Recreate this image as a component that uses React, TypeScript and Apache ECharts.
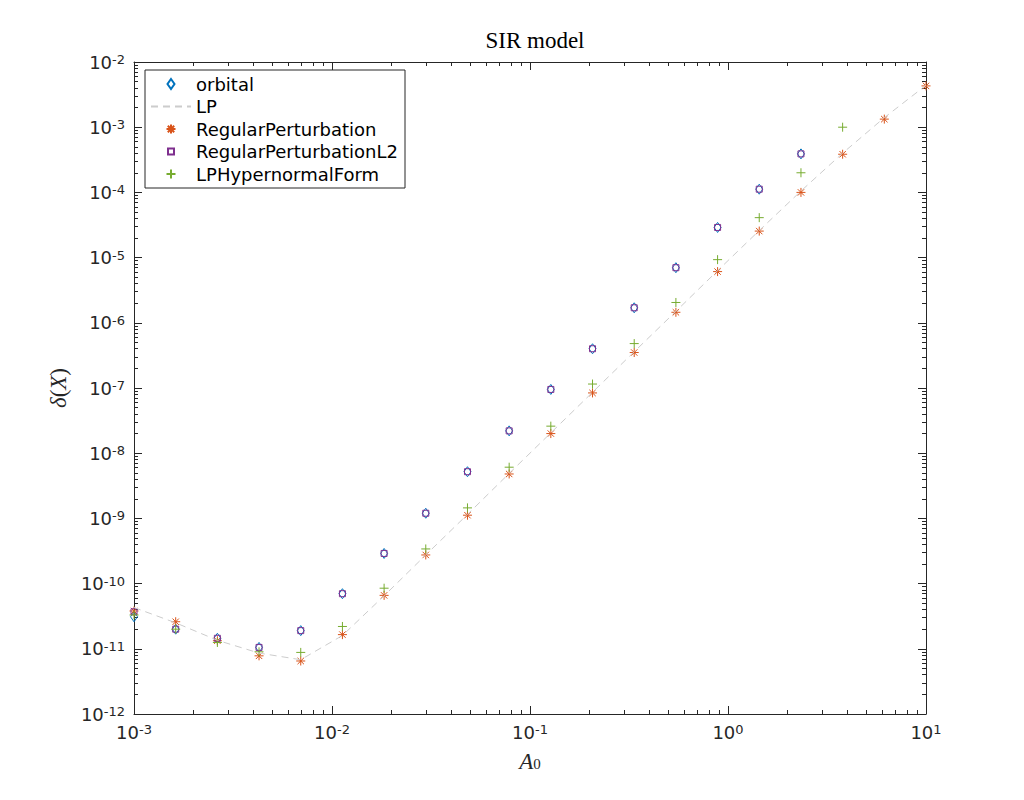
import React, { useEffect, useRef } from 'react';
import * as echarts from 'echarts';

const A0 = [0.001, 0.001624, 0.002637, 0.004281, 0.006952, 0.01129, 0.01833, 0.02976, 0.04833, 0.07848, 0.1274, 0.2069, 0.336, 0.5456, 0.8859, 1.438, 2.336, 3.793, 6.158, 10];
const orbital = [3.1e-11, 2.0e-11, 1.45e-11, 1.05e-11, 1.9e-11, 7.0e-11, 2.9e-10, 1.2e-9, 5.2e-9, 2.2e-8, 9.5e-8, 4.0e-7, 1.7e-6, 7.0e-6, 2.9e-5, 1.12e-4, 3.9e-4];
const lp = [4.3e-11, 2.5e-11, 1.35e-11, 8.6e-12, 6.8e-12, 1.6e-11, 6.5e-11, 2.75e-10, 1.15e-9, 4.9e-9, 2.05e-8, 8.6e-8, 3.6e-7, 1.5e-6, 6.3e-6, 2.6e-5, 1.05e-4, 4.0e-4, 1.4e-3, 4.4e-3];
const regular = [3.8e-11, 2.6e-11, 1.33e-11, 7.8e-12, 6.5e-12, 1.65e-11, 6.6e-11, 2.75e-10, 1.12e-9, 4.8e-9, 2.0e-8, 8.4e-8, 3.5e-7, 1.45e-6, 6.1e-6, 2.55e-5, 1.0e-4, 3.85e-4, 1.33e-3, 4.3e-3];
const regularL2 = [3.7e-11, 2.0e-11, 1.45e-11, 1.05e-11, 1.9e-11, 7.0e-11, 2.9e-10, 1.2e-9, 5.2e-9, 2.2e-8, 9.5e-8, 4.0e-7, 1.7e-6, 7.0e-6, 2.9e-5, 1.12e-4, 3.9e-4];
const hypernormal = [3.3e-11, 2.0e-11, 1.25e-11, 9.0e-12, 8.8e-12, 2.2e-11, 8.5e-11, 3.4e-10, 1.45e-9, 6.1e-9, 2.6e-8, 1.15e-7, 4.8e-7, 2.05e-6, 9.3e-6, 4.1e-5, 2.0e-4, 1.0e-3];

const xTicks = [1e-3, 1e-2, 1e-1, 1, 10];
const yTicks = [1e-12, 1e-11, 1e-10, 1e-9, 1e-8, 1e-7, 1e-6, 1e-5, 1e-4, 1e-3, 1e-2];
const minorMultipliers = [2, 3, 4, 5, 6, 7, 8, 9];

const seriesNames = ['orbital', 'LP', 'RegularPerturbation', 'RegularPerturbationL2', 'LPHypernormalForm'];
const colors = ['#0072BD', '#CCCCCC', '#D95319', '#7E2F8E', '#77AC30'];

const FRAME = 'M-5,-5M5,5';
const SYM_DIAMOND = 'path://' + FRAME + 'M0,-5L3.5,0L0,5L-3.5,0Z';
const SYM_SQUARE = 'path://' + FRAME + 'M-3,-3L3,-3L3,3L-3,3Z';
const SYM_STAR = 'path://' + FRAME + 'M0,-4.5L0,4.5M-4.5,0L4.5,0M-3.2,-3.2L3.2,3.2M-3.2,3.2L3.2,-3.2';
const SYM_PLUS = 'path://' + FRAME + 'M0,-4.5L0,4.5M-4.5,0L4.5,0';

const axisColor = '#262626';
const clear = 'rgba(0,0,0,0)';

function minorOf(majors: number[]) {
  const out: number[] = [];
  for (let i = 0; i < majors.length - 1; i++) {
    for (const m of minorMultipliers) out.push(m * majors[i]);
  }
  return out;
}

const labelRich = {
  b: { fontSize: 18, lineHeight: 18, padding: [6, 0, 0, 0], verticalAlign: 'bottom', fontFamily: 'DejaVu Sans', color: axisColor },
  s: { fontSize: 13, lineHeight: 13, verticalAlign: 'top', fontFamily: 'DejaVu Sans', color: axisColor },
};
const fmt = (v: number) => `{b|10}{s|${Math.round(Math.log10(v))}}`;

function mkAxis(kind: 'x' | 'y', position: string, major: boolean, withLabels: boolean) {
  const ticks = kind === 'x' ? xTicks : yTicks;
  const vals = major ? ticks : minorOf(ticks);
  const ax: any = {
    type: 'log',
    logBase: 10,
    min: ticks[0],
    max: ticks[ticks.length - 1],
    position,
    gridIndex: 0,
    axisLine: { show: major, onZero: false, lineStyle: { color: axisColor, width: 1 } },
    axisTick: { show: true, inside: true, length: major ? 8 : 4, customValues: vals, lineStyle: { color: axisColor, width: 1 } },
    axisLabel: withLabels
      ? { show: true, customValues: ticks, formatter: fmt, rich: labelRich, margin: 9 }
      : { show: false },
    splitLine: { show: false },
    minorTick: { show: false },
  };
  return ax;
}

export default function App() {
  const ref = useRef<HTMLDivElement>(null);
  useEffect(() => {
    if (!ref.current) return;
    const chart = echarts.init(ref.current, undefined, { renderer: 'svg' });
    const pairs = (ys: number[]) => ys.map((v, i) => [A0[i], v]);

    const xMain = mkAxis('x', 'bottom', true, true);
    xMain.name = '{a|A}{s|0}';
    xMain.nameLocation = 'middle';
    xMain.nameGap = 34;
    xMain.nameTextStyle = {
      rich: {
        a: { fontSize: 23, fontFamily: 'Liberation Serif', fontStyle: 'italic', color: axisColor, verticalAlign: 'top', lineHeight: 22 },
        s: { fontSize: 15, fontFamily: 'Liberation Serif', color: axisColor, verticalAlign: 'bottom', lineHeight: 15, padding: [11, 0, 0, 0] },
      },
    };
    const yMain = mkAxis('y', 'left', true, true);
    yMain.name = '{d|δ}{p|(}{d|X}{p|)}';
    yMain.nameLocation = 'middle';
    yMain.nameGap = 64;
    yMain.nameRotate = 90;
    yMain.nameTextStyle = {
      rich: {
        d: { fontSize: 23, fontFamily: 'Liberation Serif', fontStyle: 'italic', color: axisColor },
        p: { fontSize: 23, fontFamily: 'Liberation Serif', color: axisColor },
      },
    };

    const scatterBase = (name: string, idx: number, data: number[], symbol: string) => ({
      name,
      type: 'scatter',
      xAxisIndex: 0,
      yAxisIndex: 0,
      symbol,
      symbolSize: 10,
      data: pairs(data),
      itemStyle: { color: clear, borderColor: colors[idx], borderWidth: 1, opacity: 1 },
      emphasis: { disabled: true },
    });

    chart.setOption({
      animation: false,
      backgroundColor: '#ffffff',
      grid: { left: 134, top: 62, width: 792, height: 652, containLabel: false },
      graphic: [
        {
          type: 'text',
          x: 535,
          y: 40,
          style: { text: 'SIR model', textAlign: 'center', textVerticalAlign: 'middle', fontSize: 23, fontFamily: 'Liberation Serif', fill: '#000' },
        },
      ],
      legend: {
        orient: 'vertical',
        left: 145,
        top: 70,
        padding: [5, 7, 5, 5],
        itemGap: 4.5,
        itemWidth: 40,
        itemHeight: 10,
        itemTextGap: 1,
        borderColor: axisColor,
        borderWidth: 1,
        backgroundColor: '#ffffff',
        textStyle: { fontSize: 18, fontFamily: 'DejaVu Sans', color: '#000' },
        data: [
          { name: seriesNames[0] },
          { name: seriesNames[1], itemStyle: { color: clear, borderColor: clear, borderWidth: 0, opacity: 0 } },
          { name: seriesNames[2] },
          { name: seriesNames[3] },
          { name: seriesNames[4] },
        ],
      },
      xAxis: [xMain, mkAxis('x', 'top', true, false), mkAxis('x', 'bottom', false, false), mkAxis('x', 'top', false, false)],
      yAxis: [yMain, mkAxis('y', 'right', true, false), mkAxis('y', 'left', false, false), mkAxis('y', 'right', false, false)],
      series: [
        scatterBase(seriesNames[0], 0, orbital, SYM_DIAMOND),
        {
          name: seriesNames[1],
          type: 'line',
          xAxisIndex: 0,
          yAxisIndex: 0,
          data: pairs(lp),
          symbol: 'none',
          showSymbol: false,
          lineStyle: { color: colors[1], width: 1, type: [7, 5] },
          itemStyle: { color: colors[1] },
          emphasis: { disabled: true },
        },
        scatterBase(seriesNames[2], 2, regular, SYM_STAR),
        scatterBase(seriesNames[3], 3, regularL2, SYM_SQUARE),
        scatterBase(seriesNames[4], 4, hypernormal, SYM_PLUS),
      ],
    });
    return () => chart.dispose();
  }, []);
  return <div ref={ref} style={{ position: 'absolute', left: 0, top: 0, width: 1024, height: 800 }} />;
}
